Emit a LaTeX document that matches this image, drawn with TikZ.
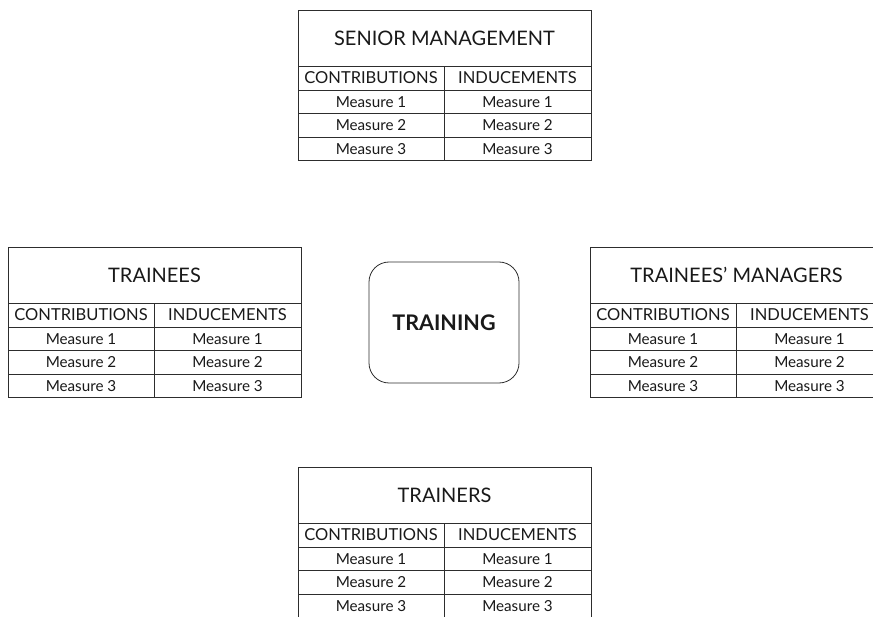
\documentclass[tikz,border=0pt]{standalone}
\usepackage{fontspec}
\setmainfont{Lato}
\definecolor{ln}{RGB}{45,45,45}
\definecolor{tx}{RGB}{25,25,25}
\newcommand{\stake}[4]{%
  \node[titlecell, anchor=north west] (#1) at (#2,#3) {#4};
  \node[headL, anchor=north west] (#1-c) at (#1.south west) {CONTRIBUTIONS};
  \node[headR, anchor=north west] (#1-i) at (#1-c.north east) {INDUCEMENTS};
  \node[rowL, anchor=north west] (#1-c1) at (#1-c.south west) {Measure 1};
  \node[rowR, anchor=north west] (#1-i1) at (#1-c1.north east) {Measure 1};
  \node[rowL, anchor=north west] (#1-c2) at (#1-c1.south west) {Measure 2};
  \node[rowR, anchor=north west] (#1-i2) at (#1-c2.north east) {Measure 2};
  \node[rowL, anchor=north west] (#1-c3) at (#1-c2.south west) {Measure 3};
  \node[rowR, anchor=north west] (#1-i3) at (#1-c3.north east) {Measure 3};
}
\begin{document}
\begin{tikzpicture}[x=1pt,y=-1pt,
  every node/.style={inner sep=0pt, outer sep=0pt, text=tx},
  cell/.style={draw=ln, line width=0.8pt, rectangle},
  titlecell/.style={cell, minimum width=293pt, minimum height=56pt, font=\fontsize{20}{22}\selectfont},
  headL/.style={cell, minimum width=146pt, minimum height=24pt, font=\fontsize{16.5}{18}\selectfont},
  headR/.style={cell, minimum width=147pt, minimum height=24pt, font=\fontsize{16.5}{18}\selectfont},
  rowL/.style={cell, minimum width=146pt, minimum height=23.5pt, font=\fontsize{15.2}{17}\selectfont},
  rowR/.style={cell, minimum width=147pt, minimum height=23.5pt, font=\fontsize{15.2}{17}\selectfont},
  hub/.style={draw=ln, line width=0.8pt, rounded corners=20pt, minimum width=150pt, minimum height=121pt, font=\bfseries\fontsize{21.5}{24}\selectfont}
]
\useasboundingbox (0,0) rectangle (873,617);
\clip (0,0) rectangle (873,617);
\stake{senior}{298}{10}{SENIOR MANAGEMENT}
\stake{trainees}{8}{247}{TRAINEES}
\stake{managers}{590}{247}{TRAINEES’ MANAGERS}
\stake{trainers}{298}{467}{TRAINERS}
\node[hub, anchor=north west] (training) at (369,262) {TRAINING};
\end{tikzpicture}
\end{document}
